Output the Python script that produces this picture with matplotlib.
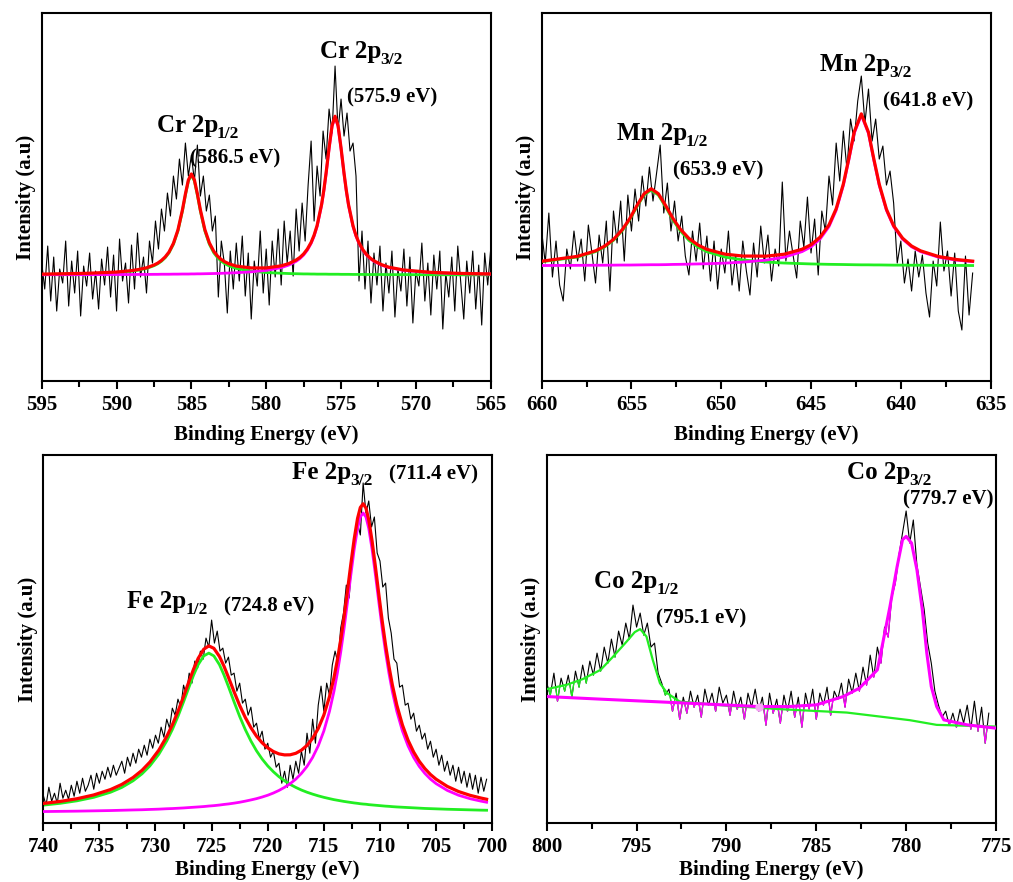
import numpy as np
import matplotlib
matplotlib.use('Agg')
import matplotlib.pyplot as plt
from matplotlib.ticker import MultipleLocator
from matplotlib.patches import Polygon

plt.rcParams['font.family'] = ['Liberation Serif', 'DejaVu Serif']
plt.rcParams['font.weight'] = 'bold'

# ---------------- Cr 2p (595 -> 565 eV, step 0.2) ----------------
cr_counts = [118, 92, 135, 80, 124, 70, 112, 98, 140, 75, 120, 88, 130, 65, 115, 95, 128, 82, 110, 72, 122,
             96, 134, 84, 126, 70, 142, 100, 118, 78, 136, 92, 148, 104, 124, 88,
             140, 118, 160, 132, 172, 150, 188, 165, 205, 182,
             222, 196, 238, 205, 226, 200, 236, 185, 205, 170, 186, 150, 165,
             84, 140, 118, 68, 130, 92, 138, 100, 145, 85, 128, 62, 120, 95, 150, 88, 132, 76, 140, 104, 152,
             96, 160, 118, 150, 105, 172, 130, 178, 140, 196,
             240, 160, 215, 185, 250, 222, 272, 248, 315, 250, 282, 245, 268, 230, 238, 205,
             100, 150, 92, 140, 78, 128, 96, 135, 70, 118, 88, 130, 64, 112, 90, 132, 75, 124, 58, 110,
             95, 138, 80, 118, 66, 126, 92, 130, 52, 108, 84, 124, 70, 135, 98, 62, 120, 88, 130, 72,
             116, 56, 128, 96, 132]
cr_fit_x = [595, 592, 590, 589, 588.5, 588, 587.5, 587.25, 587, 586.75, 586.5, 586.2, 585.9, 585.6, 585.4,
            585.2, 585.0, 584.8, 584.6, 584.4, 584.1, 583.8, 583.5, 583.25, 583.0, 582.75, 582.5, 582.0,
            581.0, 580.0, 579.0, 578.5, 578.0, 577.75, 577.5, 577.25, 577.0, 576.8, 576.6, 576.3, 576.15,
            576.0, 575.8, 575.6, 575.4, 575.2, 575.0, 574.8, 574.65, 574.5, 574.2, 574.0, 573.8, 573.55,
            573.3, 573.05, 572.8, 572.3, 571.8, 570.8, 569.0, 567.0, 565.0]
cr_p12 = [0.6, 1.3, 2.5, 3.9, 5.0, 6.6, 9.3, 11.2, 13.8, 17.3, 22.1, 30.8, 44.1, 64.0, 80.0,
          94.1, 100.0, 94.1, 80.0, 64.0, 44.1, 30.8, 22.1, 17.3, 13.8, 11.2, 9.3, 6.6,
          3.9, 2.5, 1.8, 1.5, 1.3, 1.2, 1.1, 1.1, 1.0, 1.0, 0.9, 0.9, 0.9,
          0.9, 0.8, 0.8, 0.8, 0.8, 0.7, 0.7, 0.7, 0.7, 0.6, 0.6, 0.6, 0.6,
          0.5, 0.5, 0.5, 0.5, 0.4, 0.4, 0.3, 0.2, 0.2]
cr_p32 = [0.3, 0.4, 0.5, 0.5, 0.6, 0.6, 0.7, 0.7, 0.8, 0.8, 0.8, 0.9, 0.9, 1.0, 1.0,
          1.0, 1.1, 1.1, 1.2, 1.2, 1.3, 1.4, 1.5, 1.6, 1.7, 1.9, 2.0, 2.3,
          3.2, 4.6, 7.4, 9.9, 13.7, 16.4, 20.0, 24.9, 31.6, 38.9, 48.6, 69.7, 84.1,
          101.1, 126.4, 148.7, 158.0, 148.7, 126.4, 101.1, 84.1, 69.7, 48.6, 38.9, 31.6, 24.9,
          20.0, 16.4, 13.7, 9.9, 7.4, 4.6, 2.4, 1.4, 0.9]
cr_base = 106

# ---------------- Mn 2p (660 -> 636 eV, step 0.2) ----------------
mn_counts = [150, 118, 168, 104, 140, 96, 80, 132, 112, 150, 120, 142, 100, 156, 128, 98, 146, 118, 160, 90,
             170, 138, 180, 120, 186, 150, 192, 160, 205, 175, 214, 180, 208, 236, 168, 198, 150, 180, 140, 165,
             125, 106, 150, 120, 158, 112, 145, 100, 140, 92, 132, 108, 150, 96, 126, 90, 140, 110, 86, 138,
             104, 155, 118, 146, 100, 132, 115, 199, 120, 150, 126, 103, 160, 134, 184, 128, 162, 106, 170, 150,
             205, 176, 238, 200, 250, 212, 262, 240, 280, 305, 258, 292, 240, 262, 222, 235, 196, 210, 178, 118,
             140, 98, 122, 90, 130, 104, 126, 88, 64, 120, 95, 159, 110, 130, 85, 128, 70, 51, 125, 66,
             108]
mn_fit_x = [660, 658, 657, 656.5, 656, 655.5, 655.1, 654.7, 654.3, 653.9, 653.5, 653.1, 652.7, 652.3,
            651.8, 651.3, 650.8, 649.8, 648.8, 647.5, 646.5, 645.5, 645.0, 644.5, 644.0, 643.6, 643.2,
            642.9, 642.6, 642.2, 641.8, 641.5, 641.2, 640.8, 640.4, 639.9, 639.4, 638.9, 637.9, 636.9, 636.0]
mn_p12 = [4.3, 9.0, 14.4, 19.0, 25.7, 35.6, 46.3, 59.2, 71.0, 76.0, 71.0, 59.2, 46.3, 35.6, 25.7,
          19.0, 14.4, 9.0, 6.1, 4.0, 3.0, 2.4, 2.1, 1.9, 1.7, 1.6, 1.5, 1.4, 1.3, 1.2, 1.2, 1.1, 1.1,
          1.0, 0.9, 0.9, 0.8, 0.8, 0.7, 0.6, 0.5]
mn_p32 = [0.5, 0.7, 0.8, 0.8, 0.9, 1.0, 1.0, 1.1, 1.2, 1.3, 1.3, 1.4, 1.6, 1.7, 1.9, 2.1, 2.3, 2.9,
          3.9, 5.9, 8.8, 14.4, 19.2, 26.9, 39.4, 55.7, 80.6, 105.7, 132.5, 151.0, 132.5, 105.7, 80.6,
          55.7, 39.4, 26.9, 19.2, 14.4, 8.8, 5.9, 4.4]
mn_base = 115

# ---------------- Fe 2p (740 -> 700.5 eV, step 0.25) ----------------
fe_counts = [28, 18, 36, 22, 30, 20, 40, 25, 33, 24, 38, 27, 42, 30, 45, 32, 38, 48, 34, 50,
             40, 52, 44, 56, 46, 58, 48, 55, 62, 50, 66, 57, 70, 60, 74, 66, 78, 68, 84, 75,
             88, 80, 96, 86, 104, 95, 115, 108, 124, 116, 138, 128, 150, 140, 162, 155, 172, 164, 185, 176,
             203, 180, 192, 172, 175, 160, 166, 148, 150, 132, 140, 120, 124, 108, 116, 96, 100, 84, 92, 74,
             80, 66, 72, 56, 60, 40, 52, 36, 58, 44, 62, 50, 72, 58, 90, 70, 104, 80, 118, 137,
             112, 140, 128, 158, 172, 160, 195, 210, 238, 225, 262, 280, 300, 288, 340, 310, 322, 296, 306, 270,
             262, 236, 240, 205, 190, 164, 160, 136, 138, 118, 120, 104, 110, 92, 98, 84, 90, 74, 82, 66,
             74, 58, 68, 52, 62, 48, 58, 42, 56, 40, 52, 36, 50, 34, 48, 30, 46, 32, 44]
fe_fit_x = [740, 738.5, 737, 735.5, 734, 733, 732, 731.2, 730.5, 729.7, 729, 728.5, 728, 727.5, 727,
            726.6, 726.2, 725.7, 725.25, 724.8, 724.3, 723.9, 723.5, 723.0, 722.5, 722.0, 721.5, 721.0,
            720.5, 720.0, 719.5, 719.0, 718.5, 718.0, 717.5, 717.0, 716.5, 716.0, 715.5, 715.0, 714.5,
            714.1, 713.8, 713.5, 713.2, 712.9, 712.6, 712.3, 712.0, 711.75, 711.5, 711.25, 711.0, 710.7,
            710.4, 710.1, 709.8, 709.5, 709.2, 708.9, 708.5, 708.0, 707.5, 707.0, 706.5, 706.0, 705.5,
            705.0, 704.0, 703.0, 702.0, 701.0, 700.5]
fe_p12 = [8.1, 9.9, 12.4, 15.9, 21.0, 25.8, 32.4, 39.4, 47.3, 59.0, 72.2, 83.6, 96.7, 111.3, 126.5,
          138.2, 148.4, 157.2, 160.0, 157.2, 148.4, 138.2, 126.5, 111.3, 96.7, 83.6, 72.2, 62.4,
          54.2, 47.3, 41.5, 36.5, 32.4, 28.8, 25.8, 23.2, 21.0, 19.1, 17.4, 15.9, 14.6,
          13.6, 13.0, 12.4, 11.8, 11.3, 10.8, 10.3, 9.9, 9.5, 9.2, 9.0, 8.6, 8.3,
          8.0, 7.7, 7.4, 7.1, 6.9, 6.6, 6.3, 6.0, 5.7, 5.4, 5.1, 4.8, 4.6,
          4.4, 4.0, 3.7, 3.4, 3.1, 3.0]
fe_p32 = [1.7, 1.9, 2.1, 2.4, 2.7, 3.0, 3.3, 3.5, 3.8, 4.1, 4.5, 4.7, 5.0, 5.3, 5.7,
          6.0, 6.3, 6.7, 7.2, 7.6, 8.2, 8.8, 9.3, 10.1, 11.0, 12.1, 13.3, 14.6,
          16.2, 18.0, 20.2, 22.8, 25.9, 29.6, 34.1, 39.8, 46.8, 55.8, 67.3, 82.2, 101.8,
          121.8, 139.9, 160.8, 184.6, 210.7, 237.8, 263.5, 284.6, 296.0, 300.0, 296.0, 284.6, 263.5,
          237.8, 210.7, 184.6, 160.8, 139.9, 121.8, 101.8, 82.2, 67.3, 55.8, 46.8, 39.8, 34.1,
          29.6, 22.8, 18.0, 14.6, 12.1, 11.0]
fe_base = 10

# ---------------- Co 2p (800 -> 775.4 eV, step 0.2) ----------------
co_counts = [140, 128, 150, 122, 145, 132, 148, 126, 152, 136, 158, 140, 162, 148, 170, 152, 176, 160, 184, 166,
             192, 178, 200, 184, 218, 196, 210, 188, 200, 176, 180, 150, 140, 128, 134, 112, 130, 104, 126, 110,
             132, 116, 128, 106, 134, 118, 130, 112, 136, 120, 128, 108, 132, 114, 126, 104, 130, 116, 134, 112,
             126, 98, 130, 110, 124, 100, 128, 112, 132, 106, 126, 96, 130, 114, 134, 104, 130, 118, 136, 108,
             132, 124, 140, 116, 144, 130, 150, 132, 156, 138, 168, 146, 176, 160, 196, 186, 226, 240, 268, 290,
             312, 280, 303, 258, 236, 214, 180, 160, 132, 118, 106, 112, 98, 110, 96, 114, 100, 118, 94, 122,
             92, 116, 80, 110]
co_p12_x = [800.0, 798.9, 798.0, 797.0, 796.3, 795.55, 795.1, 794.8, 794.45, 794.1, 793.7, 793.3,
            792.6, 790.0, 787.0, 783.3, 779.8, 778.3, 775.0]
co_p12_y = [134.0, 138.3, 144.0, 153.3, 166.6, 181.6, 191.0, 194.0, 186.6, 163.3, 140.0, 130.0,
            121.6, 117.5, 114.0, 110.6, 103.0, 98.3, 96.6]
co_p32_x = [800.0, 797.0, 794.0, 791.0, 788.2, 786.5, 785.0, 783.5, 782.6, 781.6, 781.3, 780.9, 780.5,
            780.2, 780.0, 779.7, 779.4, 779.1, 778.85, 778.6, 778.3, 777.9, 776.6, 775.0]
co_p32_y = [126.6, 124.0, 121.5, 119.0, 116.6, 116.6, 118.3, 126.6, 135.0, 153.3, 180.0, 216.6, 256.6,
            283.3, 286.6, 280.0, 253.3, 213.3, 170.0, 136.6, 116.6, 103.3, 98.3, 95.0]
co_dot = (788.2, 116.6)

RED = '#ff0000'
GREEN = '#22ee22'
MAGENTA = '#ff00ff'

fig = plt.figure(figsize=(10.13, 8.82), dpi=100)
ax1 = fig.add_axes([0.0412, 0.568, 0.4432, 0.4172])
ax2 = fig.add_axes([0.5347, 0.568, 0.4432, 0.4172])
ax3 = fig.add_axes([0.0427, 0.0666, 0.4432, 0.4176])
ax4 = fig.add_axes([0.5397, 0.0666, 0.4435, 0.4176])
renderer = fig.canvas.get_renderer()


def style_axes(ax, xhi, xlo, xpad):
    ax.set_xlim(xhi, xlo)
    ax.set_ylim(0, 368)
    ax.xaxis.set_major_locator(MultipleLocator(5))
    ax.xaxis.set_minor_locator(MultipleLocator(2.5))
    ax.tick_params(axis='x', which='both', direction='out', top=False, width=1.5,
                   labelsize=15, pad=4)
    ax.tick_params(axis='x', which='major', length=6)
    ax.tick_params(axis='x', which='minor', length=4)
    ax.set_yticks([])
    for s in ax.spines.values():
        s.set_linewidth(1.5)
    ax.set_xlabel('Binding Energy (eV)', fontsize=15, fontweight='bold', labelpad=xpad)
    ax.set_ylabel('Intensity (a.u)', fontsize=15, fontweight='bold', labelpad=4)


def fit_panel(ax, counts, hi, lo, fx, p12, p32, base):
    e = np.linspace(hi, lo, len(counts))
    ax.plot(e, counts, color='black', lw=0.8, zorder=1)
    fx = np.array(fx)
    p12 = np.array(p12)
    p32 = np.array(p32)
    ax.plot(fx, base + p12, color=GREEN, lw=2, zorder=2)
    ax.plot(fx, base + p32, color=MAGENTA, lw=2, zorder=3)
    ax.plot(fx, base + p12 + p32, color=RED, lw=2.3, zorder=4)


def peak_label(ax, x, y, main, sub):
    t = ax.text(x, y, main, fontsize=18, zorder=6)
    w = t.get_window_extent(renderer).width * 72 / fig.dpi
    ax.annotate(sub, xy=(x, y), xytext=(w - 1.0, -4.5), textcoords='offset points',
                fontsize=12.5, zorder=6)


def ev_label(ax, x, y, s):
    ax.text(x, y, s, fontsize=15, zorder=6)


fit_panel(ax1, cr_counts, 595, 565, cr_fit_x, cr_p12, cr_p32, cr_base)
style_axes(ax1, 595, 565, 7)
peak_label(ax1, 587.3, 249, 'Cr 2p', '1/2')
ev_label(ax1, 585.1, 218, '(586.5 eV)')
peak_label(ax1, 576.4, 323, 'Cr 2p', '3/2')
ev_label(ax1, 574.6, 279, '(575.9 eV)')

fit_panel(ax2, mn_counts, 660, 636, mn_fit_x, mn_p12, mn_p32, mn_base)
style_axes(ax2, 660, 635, 7)
peak_label(ax2, 655.8, 241, 'Mn 2p', '1/2')
ev_label(ax2, 652.7, 206, '(653.9 eV)')
peak_label(ax2, 644.5, 310, 'Mn 2p', '3/2')
ev_label(ax2, 641.0, 275, '(641.8 eV)')

fit_panel(ax3, fe_counts, 740, 700.5, fe_fit_x, fe_p12, fe_p32, fe_base)
style_axes(ax3, 740, 700, 2)
peak_label(ax3, 732.5, 215, 'Fe 2p', '1/2')
ev_label(ax3, 723.9, 211.6, '(724.8 eV)')
peak_label(ax3, 717.8, 344, 'Fe 2p', '3/2')
ev_label(ax3, 709.2, 343.3, '(711.4 eV)')

# Co panel: components over the data, noise below each component shown in its colour
co_e = np.linspace(800, 775.4, len(co_counts))
ax4.plot(co_e, co_counts, color='black', lw=0.8, zorder=1)
for cx, cy, col, z in [(co_p12_x, co_p12_y, GREEN, 2), (co_p32_x, co_p32_y, MAGENTA, 3)]:
    verts = list(zip(cx, cy)) + [(cx[-1], -50), (cx[0], -50)]
    clip = Polygon(verts, closed=True, transform=ax4.transData)
    ln, = ax4.plot(co_e, co_counts, color=col, lw=0.9, zorder=z)
    ln.set_clip_path(clip)
ax4.plot(co_p12_x, co_p12_y, color=GREEN, lw=1.6, zorder=4)
ax4.plot(co_p32_x, co_p32_y, color=MAGENTA, lw=2.2, zorder=5)
ax4.plot(co_dot[0], co_dot[1], 'o', color='#f4a6f4', ms=5, zorder=5)
style_axes(ax4, 800, 775, 2)
peak_label(ax4, 797.35, 235, 'Co 2p', '1/2')
ev_label(ax4, 793.9, 200, '(795.1 eV)')
peak_label(ax4, 783.3, 344, 'Co 2p', '3/2')
ev_label(ax4, 780.16, 318, '(779.7 eV)')

fig.savefig('out.png', dpi=100)
